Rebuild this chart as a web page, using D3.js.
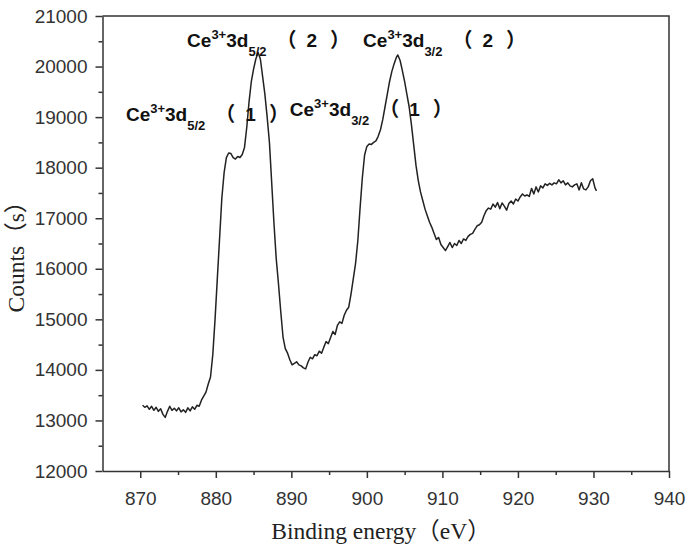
<!DOCTYPE html>
<html>
<head>
  <meta charset="utf-8">
  <script src="https://d3js.org/d3.v7.min.js"></script>
  <style>
    body { margin: 0; background: #fff; }
    .tick text { font-family: "Liberation Sans", Arial, sans-serif; font-size: 19px; fill: #333; }
    .axis path, .axis line { stroke: #333; stroke-width: 1.5; }
  </style>
</head>
<body>
  <div id="viz"></div>
  <script>
  // binding energy (eV) and counts
  var energy = [
    870.3, 870.6, 870.9, 871.2, 871.5, 871.8, 872.1, 872.4, 872.7, 873.0,
    873.3, 873.6, 873.9, 874.2, 874.5, 874.8, 875.1, 875.4, 875.7, 876.0,
    876.3, 876.6, 876.9, 877.2, 877.5, 877.8, 878.1, 878.4, 878.7, 879.0,
    879.3, 879.6, 879.9, 880.2, 880.5, 880.8, 881.1, 881.4, 881.7, 882.0,
    882.3, 882.6, 882.9, 883.2, 883.5, 883.8, 884.1, 884.4, 884.7, 885.0,
    885.3, 885.6, 885.9, 886.2, 886.5, 886.8, 887.1, 887.4, 887.7, 888.0,
    888.3, 888.6, 888.9, 889.2, 889.5, 889.8, 890.1, 890.4, 890.7, 891.0,
    891.3, 891.6, 891.9, 892.2, 892.5, 892.8, 893.1, 893.4, 893.7, 894.0,
    894.3, 894.6, 894.9, 895.2, 895.5, 895.8, 896.1, 896.4, 896.7, 897.0,
    897.3, 897.6, 897.9, 898.2, 898.5, 898.8, 899.1, 899.4, 899.7, 900.0,
    900.3, 900.6, 900.9, 901.2, 901.5, 901.8, 902.1, 902.4, 902.7, 903.0,
    903.3, 903.6, 903.9, 904.1, 904.4, 904.7, 905.0, 905.3, 905.6, 905.9,
    906.2, 906.5, 906.8, 907.1, 907.4, 907.7, 908.0, 908.3, 908.6, 908.9,
    909.2, 909.5, 909.8, 910.1, 910.4, 910.7, 911.0, 911.3, 911.6, 911.9,
    912.2, 912.5, 912.8, 913.1, 913.4, 913.7, 914.0, 914.3, 914.6, 914.9,
    915.2, 915.5, 915.8, 916.1, 916.4, 916.7, 917.0, 917.3, 917.6, 917.9,
    918.2, 918.5, 918.8, 919.1, 919.4, 919.7, 920.0, 920.3, 920.6, 920.9,
    921.2, 921.5, 921.8, 922.1, 922.4, 922.7, 923.0, 923.3, 923.6, 923.9,
    924.2, 924.5, 924.8, 925.1, 925.4, 925.7, 926.0, 926.3, 926.6, 926.9,
    927.2, 927.5, 927.8, 928.1, 928.4, 928.7, 929.0, 929.3, 929.6, 929.9,
    930.2, 930.4
  ];
  var counts = [
    13300, 13260, 13290, 13220, 13280, 13200, 13260, 13180, 13230, 13120,
    13060, 13180, 13280, 13200, 13240, 13190, 13250, 13170, 13210, 13160,
    13250, 13190, 13270, 13220, 13300, 13280, 13400, 13480, 13560, 13720,
    13860, 14300, 15000, 15800, 16600, 17400, 17900, 18200, 18290, 18280,
    18200, 18170, 18220, 18200, 18260, 18400, 18800, 19300, 19700, 19950,
    20150, 20280, 20150, 19800, 19450, 19000, 18500, 17700, 16900, 16200,
    15700, 15150, 14650, 14420, 14330, 14200, 14100, 14130, 14160, 14100,
    14080, 14040, 14020, 14150, 14250, 14220, 14300, 14280, 14370, 14330,
    14450, 14560, 14520, 14640, 14760, 14700, 14880, 14950, 14920, 15080,
    15180, 15240, 15500, 15800, 16100, 16550, 17200, 17800, 18250, 18420,
    18470, 18460, 18500, 18530, 18620, 18750, 18950, 19200, 19450, 19700,
    19900, 20050, 20180, 20230, 20120, 19920, 19700, 19450, 19200, 18850,
    18450, 18050, 17750, 17520, 17350, 17180, 17050, 16920, 16820, 16700,
    16580, 16620, 16480, 16420, 16360, 16440, 16520, 16420, 16500, 16460,
    16560, 16500, 16590, 16560, 16640, 16680, 16700, 16780, 16850, 16870,
    16920, 17050, 17150, 17200, 17180, 17280, 17220, 17310, 17190, 17300,
    17240, 17160, 17290, 17340, 17280, 17380, 17340, 17420, 17480, 17440,
    17460, 17430, 17590, 17480, 17620, 17520, 17640, 17600, 17680, 17650,
    17690, 17660, 17700, 17680, 17760, 17700, 17740, 17660, 17700, 17640,
    17620, 17660, 17680, 17560, 17700, 17580, 17560, 17620, 17740, 17780,
    17600, 17540
  ];

  var xTicks = [870, 880, 890, 900, 910, 920, 930, 940];
  var xMinor = [875, 885, 895, 905, 915, 925, 935];
  var yTicks = [12000, 13000, 14000, 15000, 16000, 17000, 18000, 19000, 20000, 21000];
  var yMinor = [12500, 13500, 14500, 15500, 16500, 17500, 18500, 19500, 20500];

  // peak labels: Ce, superscript, 3d, subscript, peak number; anchored in data units
  var peakNames = ["Ce3+3d5/2（2）", "Ce3+3d3/2（2）", "Ce3+3d5/2（1）", "Ce3+3d3/2（1）"];
  var peakParts = [
    ["Ce", "3+", "3d", "5/2", "2"],
    ["Ce", "3+", "3d", "3/2", "2"],
    ["Ce", "3+", "3d", "5/2", "1"],
    ["Ce", "3+", "3d", "3/2", "1"]
  ];
  var peakAtEnergy = [876.2, 899.5, 868.1, 889.8];
  var peakAtCounts = [20390, 20390, 18920, 19020];

  var width = 688, height = 548;
  var margin = {top: 16, right: 19, bottom: 77, left: 102.5};

  var svg = d3.select("#viz").append("svg")
      .attr("width", width)
      .attr("height", height);

  var x = d3.scaleLinear().domain([865, 940]).range([margin.left, width - margin.right]);
  var y = d3.scaleLinear().domain([12000, 21000]).range([height - margin.bottom, margin.top]);

  // frame on top and right
  svg.append("path")
      .attr("d", "M" + x(865) + "," + y(21000) + "H" + x(940) + "V" + y(12000))
      .attr("fill", "none")
      .attr("stroke", "#333")
      .attr("stroke-width", 1.5);

  // axes: major ticks with labels, minor ticks without
  svg.append("g").attr("class", "axis")
      .attr("transform", "translate(0," + y(12000) + ")")
      .call(d3.axisBottom(x).tickValues(xTicks).tickSize(7).tickSizeOuter(0).tickPadding(14).tickFormat(d3.format("d")));
  svg.append("g").attr("class", "axis")
      .attr("transform", "translate(0," + y(12000) + ")")
      .call(d3.axisBottom(x).tickValues(xMinor).tickSize(4).tickSizeOuter(0).tickFormat(""))
      .select(".domain").remove();

  svg.append("g").attr("class", "axis")
      .attr("transform", "translate(" + x(865) + ",0)")
      .call(d3.axisLeft(y).tickValues(yTicks).tickSize(7).tickSizeOuter(0).tickPadding(8).tickFormat(d3.format("d")));
  svg.append("g").attr("class", "axis")
      .attr("transform", "translate(" + x(865) + ",0)")
      .call(d3.axisLeft(y).tickValues(yMinor).tickSize(4).tickSizeOuter(0).tickFormat(""))
      .select(".domain").remove();

  // spectrum
  var line = d3.line()
      .x(function(d, i) { return x(energy[i]); })
      .y(function(d) { return y(d); });

  svg.append("path")
      .datum(counts)
      .attr("d", line)
      .attr("fill", "none")
      .attr("stroke", "#222")
      .attr("stroke-width", 1.5)
      .attr("stroke-linejoin", "round");

  // peak labels
  var cjk = "'Noto Sans CJK SC', sans-serif";
  peakParts.forEach(function(p, i) {
    var t = svg.append("text")
        .attr("x", x(peakAtEnergy[i]))
        .attr("y", y(peakAtCounts[i]))
        .attr("font-family", "'Liberation Sans', Arial, sans-serif")
        .attr("font-weight", "bold")
        .attr("font-size", 19)
        .attr("fill", "#111")
        .attr("aria-label", peakNames[i]);
    t.append("tspan").text(p[0]);
    t.append("tspan").attr("font-size", 13).attr("dy", -8).text(p[1]);
    t.append("tspan").attr("dy", 8).text(p[2]);
    t.append("tspan").attr("font-size", 13).attr("dy", 9).text(p[3]);
    t.append("tspan").attr("dy", -9).attr("dx", 10)
        .attr("font-family", cjk).attr("font-size", 20)
        .text("（");
    t.append("tspan").attr("dx", 10).text(p[4]);
    t.append("tspan").attr("dx", 13)
        .attr("font-family", cjk).attr("font-size", 20)
        .text("）");
  });

  // axis titles
  svg.append("text")
      .attr("x", 381)
      .attr("y", 539)
      .attr("text-anchor", "middle")
      .attr("font-family", "'Liberation Serif', 'Noto Sans CJK SC', serif")
      .attr("font-size", 23.5)
      .attr("fill", "#222")
      .text("Binding energy（eV）");

  svg.append("text")
      .attr("transform", "translate(24,251) rotate(-90)")
      .attr("text-anchor", "middle")
      .attr("font-family", "'Liberation Serif', 'Noto Sans CJK SC', serif")
      .attr("font-size", 23.5)
      .attr("fill", "#222")
      .text("Counts（s）");
  </script>
</body>
</html>
